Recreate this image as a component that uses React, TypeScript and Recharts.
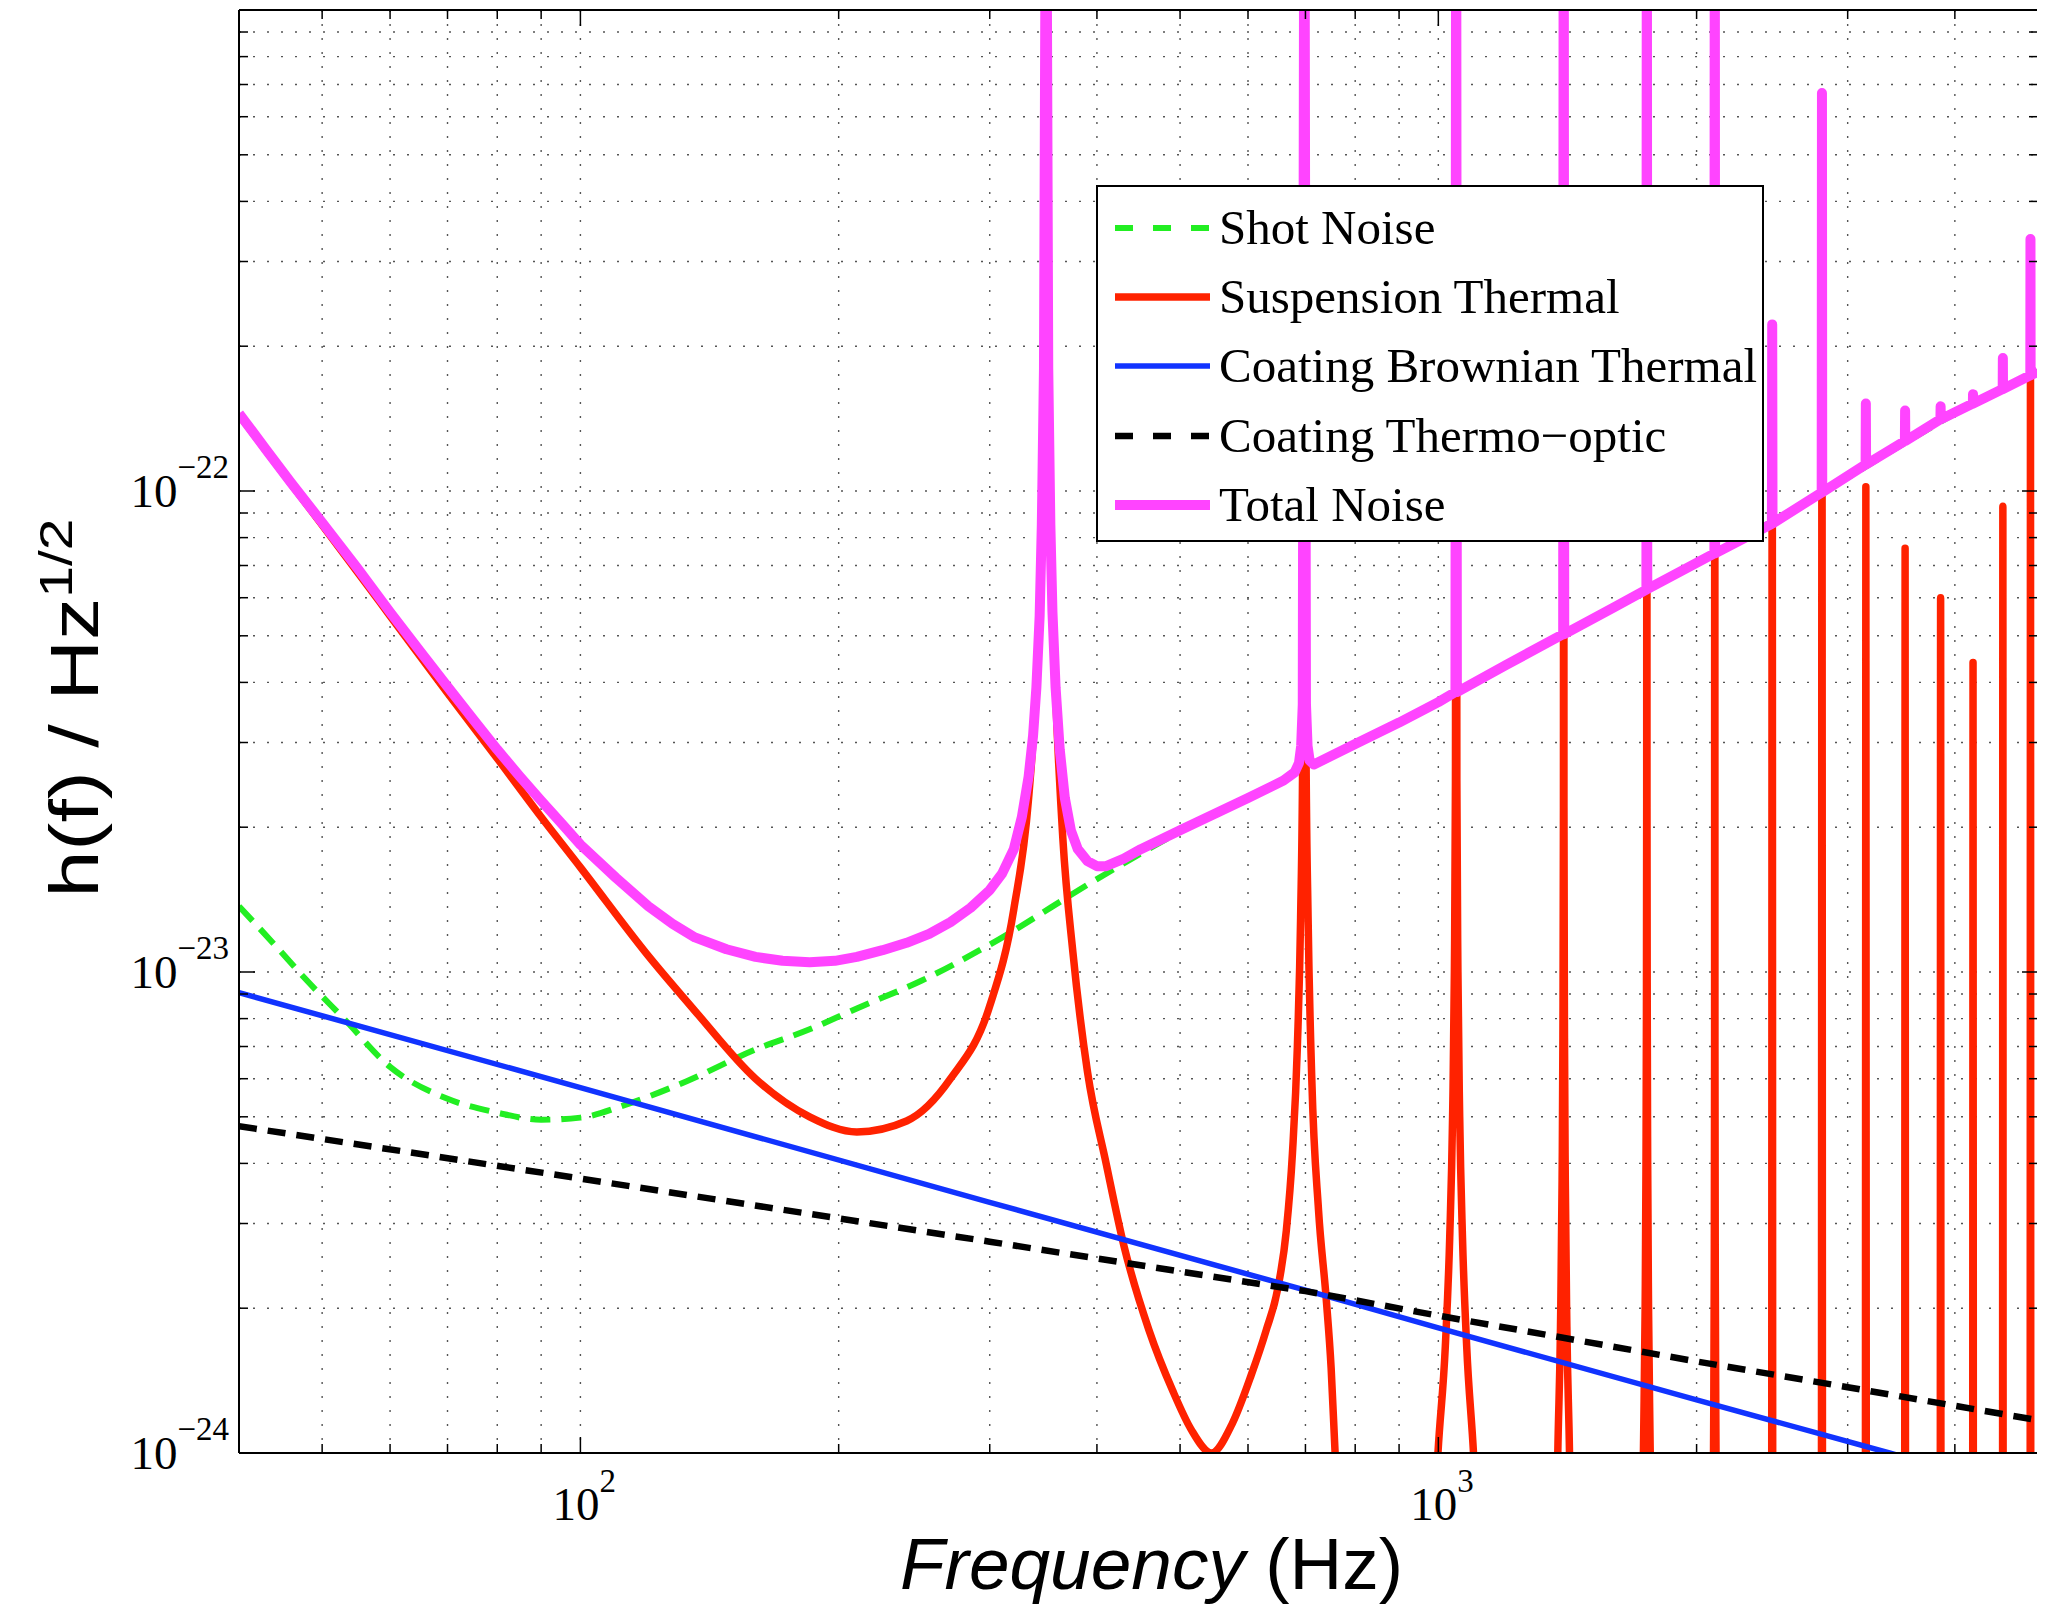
import React from 'react';
import { LineChart, Line, XAxis, YAxis, CartesianGrid, Legend } from 'recharts';

// ---------- data (frequency in Hz, strain noise in 1/sqrt(Hz)) ----------
const freqTicks = [50, 60, 70, 80, 90, 100, 200, 300, 400, 500, 600, 700, 800, 900, 1000, 2000, 3000, 4000];
const strainTicks = [
  1e-24, 2e-24, 3e-24, 4e-24, 5e-24, 6e-24, 7e-24, 8e-24, 9e-24,
  1e-23, 2e-23, 3e-23, 4e-23, 5e-23, 6e-23, 7e-23, 8e-23, 9e-23,
  1e-22, 2e-22, 3e-22, 4e-22, 5e-22, 6e-22, 7e-22, 8e-22, 9e-22,
];

const shotNoise: [number, number][] = [
  [40, 1.37e-23], [44, 1.14e-23], [48, 9.6e-24], [53, 8.0e-24], [60, 6.35e-24], [70, 5.45e-24],
  [80, 5.1e-24], [90, 4.93e-24], [100, 4.98e-24], [113, 5.3e-24], [133, 5.93e-24], [160, 6.9e-24],
  [185, 7.6e-24], [210, 8.4e-24], [250, 9.6e-24], [300, 1.14e-23], [400, 1.56e-23], [500, 1.96e-23],
  [700, 2.65e-23], [1000, 3.64e-23], [1400, 5.04e-23], [2000, 7.1e-23], [2800, 9.9e-23],
  [3500, 1.26e-22], [4200, 1.52e-22], [5000, 1.77e-22],
];

const suspensionThermal: [number, number][] = [
  [40, 1.44e-22], [45, 1.09e-22], [50, 8.5e-23], [60, 5.5e-23], [70, 3.8e-23], [80, 2.78e-23],
  [90, 2.1e-23], [100, 1.65e-23], [120, 1.08e-23], [136, 8.3e-24], [160, 6.0e-24], [185, 5.0e-24],
  [210, 4.65e-24], [240, 4.9e-24], [270, 6.0e-24], [300, 8.5e-24], [320, 1.35e-23], [333, 2.3e-23],
  [340, 4.0e-23], [344, 7.0e-23], [347, 1.8e-22], [349, 3e-21], [351, 1.8e-22], [354, 7.0e-23],
  [358, 3.8e-23], [365, 1.9e-23], [375, 1.1e-23], [390, 6.2e-24], [410, 4.0e-24], [430, 2.7e-24],
  [460, 1.8e-24], [490, 1.35e-24], [515, 1.12e-24], [544, 1.0e-24], [575, 1.15e-24], [605, 1.45e-24],
  [630, 1.8e-24], [650, 2.2e-24], [665, 2.9e-24], [676, 4.2e-24], [685, 7.0e-24], [691, 1.3e-23],
  [695, 3.0e-23], [698, 3e-21], [701, 3.0e-23], [705, 1.3e-23], [712, 6.0e-24], [725, 3.2e-24],
  [740, 2.1e-24], [750, 1.5e-24], [758, 1.0e-24], [775, 5e-25],
  [980, 5e-25], [999, 1.0e-24], [1019, 1.67e-24], [1031, 2.8e-24], [1039, 5.0e-24], [1044, 1.0e-23],
  [1047, 2.5e-23], [1049, 3e-21], [1051, 2.5e-23], [1054, 1.0e-23], [1059, 5.0e-24], [1067, 2.8e-24],
  [1079, 1.67e-24], [1099, 1.0e-24], [1120, 5e-25],
  [1370, 5e-25], [1378, 1.0e-24], [1388, 1.83e-24], [1394, 3.7e-24], [1397, 7.3e-24], [1399, 2.2e-23],
  [1400, 3e-21], [1401, 2.2e-23], [1403, 7.3e-24], [1406, 3.7e-24], [1412, 1.83e-24], [1422, 1.0e-24],
  [1430, 5e-25],
  [1728, 5e-25], [1734, 1.0e-24], [1742, 2.0e-24], [1746, 4.0e-24], [1748, 8.0e-24], [1749.3, 2.3e-23],
  [1750, 3e-21], [1750.7, 2.3e-23], [1752, 8.0e-24], [1754, 4.0e-24], [1758, 2.0e-24], [1766, 1.0e-24],
  [1772, 5e-25],
  [2090, 5e-25], [2093, 1.0e-24], [2097, 2.3e-24], [2099, 7.0e-24], [2100, 3e-21], [2101, 7.0e-24],
  [2103, 2.3e-24], [2107, 1.0e-24], [2110, 5e-25],
  [2446, 5e-25], [2450, 2.22e-22], [2454, 5e-25],
  [2796, 5e-25], [2800, 6.72e-22], [2804, 5e-25],
  [3146, 5e-25], [3150, 1.02e-22], [3154, 5e-25],
  [3496, 5e-25], [3500, 7.6e-23], [3504, 5e-25],
  [3846, 5e-25], [3850, 6.0e-23], [3854, 5e-25],
  [4196, 5e-25], [4200, 4.4e-23], [4204, 5e-25],
  [4546, 5e-25], [4550, 9.3e-23], [4554, 5e-25],
  [4896, 5e-25], [4900, 3.34e-22], [4904, 5e-25],
  [5000, 5e-25],
];

const coatingBrownian: [number, number][] = [
  [40, 9.06e-24], [100, 5.75e-24], [300, 3.32e-24], [700, 2.18e-24], [1000, 1.82e-24],
  [2000, 1.29e-24], [3356, 1.0e-24], [5000, 8.2e-25],
];

const coatingThermoOptic: [number, number][] = [
  [40, 4.78e-24], [100, 3.72e-24], [300, 2.75e-24], [700, 2.17e-24], [1000, 1.93e-24],
  [2000, 1.55e-24], [3000, 1.37e-24], [5000, 1.17e-24],
];

const totalNoise: [number, number][] = [
  [40, 1.45e-22], [43, 1.22e-22], [46, 1.04e-22], [50, 8.6e-23], [55, 6.9e-23], [60, 5.6e-23],
  [65, 4.65e-23], [70, 3.92e-23], [75, 3.35e-23], [80, 2.9e-23], [85, 2.55e-23], [90, 2.27e-23],
  [95, 2.04e-23], [100, 1.84e-23], [110, 1.57e-23], [120, 1.37e-23], [128, 1.26e-23], [136, 1.18e-23],
  [148, 1.115e-23], [160, 1.075e-23], [172, 1.055e-23], [185, 1.048e-23], [198, 1.055e-23],
  [210, 1.075e-23], [225, 1.11e-23], [240, 1.15e-23], [255, 1.2e-23], [270, 1.27e-23], [285, 1.36e-23],
  [300, 1.48e-23], [310, 1.6e-23], [320, 1.8e-23], [327, 2.1e-23], [333, 2.55e-23], [337, 3.1e-23],
  [340, 3.9e-23], [343, 5.5e-23], [345, 8.5e-23], [347, 1.8e-22], [349, 3e-21], [351, 1.8e-22],
  [353, 8.5e-23], [355, 5.6e-23], [358, 3.9e-23], [362, 2.9e-23], [367, 2.3e-23], [373, 1.97e-23],
  [380, 1.8e-23], [390, 1.7e-23], [400, 1.66e-23], [410, 1.66e-23], [430, 1.72e-23], [450, 1.8e-23],
  [500, 1.97e-23], [600, 2.3e-23], [660, 2.5e-23], [680, 2.6e-23], [688, 2.72e-23], [692, 2.95e-23],
  [695, 3.6e-23], [698, 3e-21], [701, 3.6e-23], [704, 2.95e-23], [708, 2.75e-23], [716, 2.7e-23],
  [800, 2.98e-23], [900, 3.3e-23], [1000, 3.64e-23], [1047, 3.82e-23], [1049, 3e-21], [1051, 3.82e-23],
  [1200, 4.35e-23], [1398, 5.04e-23], [1400, 3e-21], [1402, 5.04e-23], [1600, 5.72e-23],
  [1748, 6.24e-23], [1750, 3e-21], [1752, 6.25e-23],
  [2098, 7.42e-23], [2100, 3e-21], [2102, 7.42e-23],
  [2448, 8.55e-23], [2450, 2.22e-22], [2452, 8.56e-23],
  [2798, 9.93e-23], [2800, 6.72e-22], [2802, 9.94e-23],
  [3148, 1.135e-22], [3150, 1.52e-22], [3152, 1.135e-22],
  [3498, 1.27e-22], [3500, 1.47e-22], [3502, 1.27e-22],
  [3848, 1.41e-22], [3850, 1.5e-22], [3852, 1.41e-22],
  [4198, 1.52e-22], [4200, 1.59e-22], [4202, 1.52e-22],
  [4548, 1.63e-22], [4550, 1.89e-22], [4552, 1.63e-22],
  [4898, 1.74e-22], [4900, 3.34e-22], [4902, 1.74e-22],
  [5000, 1.77e-22],
];

type SeriesDef = {
  name: string;
  data: [number, number][];
  color: string;
  width: number;
  dash?: string;
  curve: 'linear' | 'monotoneX';
};

const series: SeriesDef[] = [
  { name: 'Shot Noise', data: shotNoise, color: '#22EE22', width: 6, dash: '20 11', curve: 'monotoneX' },
  { name: 'Suspension Thermal', data: suspensionThermal, color: '#FF2200', width: 7.5, curve: 'monotoneX' },
  { name: 'Coating Brownian Thermal', data: coatingBrownian, color: '#1133FF', width: 5.5, curve: 'linear' },
  { name: 'Coating Thermo\u2212optic', data: coatingThermoOptic, color: '#000000', width: 6.5, dash: '18 11', curve: 'linear' },
  { name: 'Total Noise', data: totalNoise, color: '#FF44FF', width: 10, curve: 'linear' },
];

// ---------- layout ----------
const W = 2037;
const H = 1597;
const SERIF = "'Liberation Serif', 'Times New Roman', serif";
const SANS = "'Liberation Sans', Arial, Helvetica, sans-serif";

const isDecade = (v: number) => Math.abs(Math.log10(v) - Math.round(Math.log10(v))) < 1e-6;
const expOf = (v: number) => Math.round(Math.log10(v));
const expText = (e: number) => (e < 0 ? '\u2212' + String(-e) : String(e));

const BottomTick = (props: any) => {
  const { x, y, payload } = props;
  const v = payload.value;
  const major = isDecade(v);
  return (
    <g>
      <line x1={x} y1={y} x2={x} y2={y - (major ? 16 : 9)} stroke="#000" strokeWidth={1.5} />
      {major && (
        <text x={x - 28} y={y + 67} fontFamily={SERIF} fontSize={47} fill="#000">
          10
          <tspan dy={-28} fontSize={33}>{expText(expOf(v))}</tspan>
        </text>
      )}
    </g>
  );
};

const TopTick = (props: any) => {
  const { x, y, payload } = props;
  const major = isDecade(payload.value);
  return <line x1={x} y1={y} x2={x} y2={y + (major ? 16 : 9)} stroke="#000" strokeWidth={1.5} />;
};

const LeftTick = (props: any) => {
  const { x, y, payload } = props;
  const v = payload.value;
  const major = isDecade(v);
  return (
    <g>
      <line x1={x} y1={y} x2={x + (major ? 16 : 9)} y2={y} stroke="#000" strokeWidth={1.5} />
      {major && (
        <text x={x - 10} y={y + 16} textAnchor="end" fontFamily={SERIF} fontSize={47} fill="#000">
          10
          <tspan dy={-29} fontSize={33}>{expText(expOf(v))}</tspan>
        </text>
      )}
    </g>
  );
};

const RightTick = (props: any) => {
  const { x, y, payload } = props;
  const major = isDecade(payload.value);
  return <line x1={x} y1={y} x2={x - (major ? 16 : 9)} y2={y} stroke="#000" strokeWidth={1.5} />;
};

const XTitle = () => (
  <text x={892} y={1581} fontFamily={SANS} fontSize={73} fill="#000">
    <tspan fontStyle="italic">Frequency</tspan>
    <tspan>{' (Hz)'}</tspan>
  </text>
);

const YTitle = () => (
  <text
    transform="translate(90, 700) rotate(-90) scale(1.24, 1)"
    textAnchor="middle"
    fontFamily={SANS}
    fontSize={68}
    fill="#000"
  >
    {'h(f) / Hz'}
    <tspan dy={-26} fontSize={46}>1/2</tspan>
  </text>
);

const LegendBox = () => {
  const bw = 668;
  const bh = 357;
  const rowY = [43, 112, 181, 251, 320];
  return (
    <svg width={bw} height={bh} style={{ display: 'block' }}>
      <rect x={1} y={1} width={bw - 2} height={bh - 2} fill="#fff" stroke="#000" strokeWidth={2} />
      {series.map((s, i) => (
        <g key={s.name}>
          <line
            x1={19}
            x2={114}
            y1={rowY[i]}
            y2={rowY[i]}
            stroke={s.color}
            strokeWidth={s.width}
            strokeDasharray={s.dash ? '18 20' : undefined}
          />
          <text x={123} y={rowY[i] + 16} fontFamily={SERIF} fontSize={49} fill="#000">
            {s.name}
          </text>
        </g>
      ))}
    </svg>
  );
};

export default function App() {
  return (
    <div style={{ width: W, height: H }}>
      <LineChart width={W} height={H} margin={{ top: 0, right: 3, bottom: 112, left: 221 }}>
        <CartesianGrid
          xAxisId="bottom"
          yAxisId="left"
          stroke="#555"
          strokeWidth={1.4}
          strokeDasharray="2 12"
          fill="none"
        />
        <XAxis
          xAxisId="bottom"
          orientation="bottom"
          type="number"
          dataKey="f"
          scale="log"
          domain={[40, 5000]}
          allowDataOverflow
          ticks={freqTicks}
          interval={0}
          height={40}
          tickSize={0}
          tickMargin={0}
          tickLine={false}
          axisLine={{ stroke: '#000', strokeWidth: 2 }}
          tick={BottomTick}
          label={<XTitle />}
        />
        <XAxis
          xAxisId="top"
          orientation="top"
          type="number"
          dataKey="f"
          scale="log"
          domain={[40, 5000]}
          allowDataOverflow
          ticks={freqTicks}
          interval={0}
          height={2}
          tickSize={0}
          tickMargin={0}
          tickLine={false}
          axisLine={{ stroke: '#000', strokeWidth: 2 }}
          tick={TopTick}
        />
        <YAxis
          yAxisId="left"
          orientation="left"
          type="number"
          scale="log"
          domain={[1e-24, 1e-21]}
          allowDataOverflow
          ticks={strainTicks}
          interval={0}
          width={10}
          tickSize={0}
          tickMargin={0}
          tickLine={false}
          axisLine={{ stroke: '#000', strokeWidth: 2 }}
          tick={LeftTick}
          label={<YTitle />}
        />
        <YAxis
          yAxisId="right"
          orientation="right"
          type="number"
          scale="log"
          domain={[1e-24, 1e-21]}
          allowDataOverflow
          ticks={strainTicks}
          interval={0}
          width={4}
          tickSize={0}
          tickMargin={0}
          tickLine={false}
          axisLine={{ stroke: '#000', strokeWidth: 2 }}
          tick={RightTick}
        />
        {series.map((s) => (
          <Line
            key={s.name}
            name={s.name}
            xAxisId="bottom"
            yAxisId="left"
            data={s.data.map(([f, h]) => ({ f, h }))}
            dataKey="h"
            type={s.curve}
            stroke={s.color}
            strokeWidth={s.width}
            strokeDasharray={s.dash}
            strokeLinejoin="round"
            dot={false}
            activeDot={false}
            isAnimationActive={false}
          />
        ))}
        <Legend
          layout="vertical"
          align="center"
          verticalAlign="middle"
          wrapperStyle={{ left: 1088, top: 177, width: 668, height: 357 }}
          content={() => <LegendBox />}
        />
      </LineChart>
    </div>
  );
}
